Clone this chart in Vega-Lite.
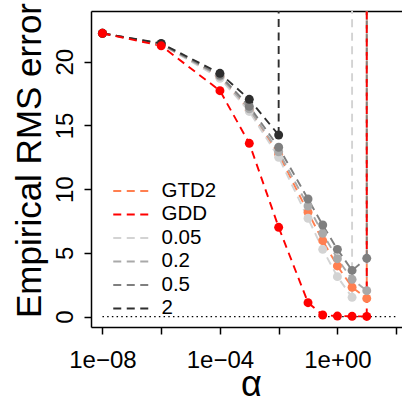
{
  "$schema": "https://vega.github.io/schema/vega-lite/v6.json",
  "width": 311,
  "height": 316,
  "autosize": {"type": "none"},
  "padding": {"left": 91, "top": 11, "right": 0, "bottom": 78},
  "background": "white",
  "config": {"view": {"stroke": null}, "font": "Liberation Sans"},
  "datasets": {
    "series": [
      {"series": "GTD2", "alpha": 1e-8, "err": 22.23},
      {"series": "GTD2", "alpha": 1e-6, "err": 21.38},
      {"series": "GTD2", "alpha": 1e-4, "err": 18.8},
      {"series": "GTD2", "alpha": 1e-3, "err": 16.2},
      {"series": "GTD2", "alpha": 1e-2, "err": 12.75},
      {"series": "GTD2", "alpha": 1e-1, "err": 8.19},
      {"series": "GTD2", "alpha": 0.31623, "err": 5.96},
      {"series": "GTD2", "alpha": 1, "err": 3.98},
      {"series": "GTD2", "alpha": 3.1623, "err": 2.31},
      {"series": "GTD2", "alpha": 10, "err": 1.43},
      {"series": "0.05", "alpha": 1e-8, "err": 22.23},
      {"series": "0.05", "alpha": 1e-6, "err": 21.36},
      {"series": "0.05", "alpha": 1e-4, "err": 18.7},
      {"series": "0.05", "alpha": 1e-3, "err": 16.1},
      {"series": "0.05", "alpha": 1e-2, "err": 12.5},
      {"series": "0.05", "alpha": 1e-1, "err": 7.72},
      {"series": "0.05", "alpha": 0.31623, "err": 5.28},
      {"series": "0.05", "alpha": 1, "err": 3.14},
      {"series": "0.05", "alpha": 3.1623, "err": 1.52},
      {"series": "0.2", "alpha": 1e-8, "err": 22.23},
      {"series": "0.2", "alpha": 1e-6, "err": 21.38},
      {"series": "0.2", "alpha": 1e-4, "err": 18.85},
      {"series": "0.2", "alpha": 1e-3, "err": 16.3},
      {"series": "0.2", "alpha": 1e-2, "err": 12.94},
      {"series": "0.2", "alpha": 1e-1, "err": 8.68},
      {"series": "0.2", "alpha": 0.31623, "err": 6.54},
      {"series": "0.2", "alpha": 1, "err": 4.55},
      {"series": "0.2", "alpha": 3.1623, "err": 2.93},
      {"series": "0.2", "alpha": 10, "err": 2.04},
      {"series": "0.5", "alpha": 1e-8, "err": 22.23},
      {"series": "0.5", "alpha": 1e-6, "err": 21.4},
      {"series": "0.5", "alpha": 1e-4, "err": 18.95},
      {"series": "0.5", "alpha": 1e-3, "err": 16.5},
      {"series": "0.5", "alpha": 1e-2, "err": 13.29},
      {"series": "0.5", "alpha": 1e-1, "err": 9.23},
      {"series": "0.5", "alpha": 0.31623, "err": 7.19},
      {"series": "0.5", "alpha": 1, "err": 5.28},
      {"series": "0.5", "alpha": 3.1623, "err": 3.63},
      {"series": "0.5", "alpha": 10, "err": 4.58},
      {"series": "2", "alpha": 1e-8, "err": 22.23},
      {"series": "2", "alpha": 1e-6, "err": 21.44},
      {"series": "2", "alpha": 1e-4, "err": 19.09},
      {"series": "2", "alpha": 1e-3, "err": 17.05},
      {"series": "2", "alpha": 1e-2, "err": 14.25},
      {"series": "GDD", "alpha": 1e-8, "err": 22.23},
      {"series": "GDD", "alpha": 1e-6, "err": 21.25},
      {"series": "GDD", "alpha": 1e-4, "err": 17.73},
      {"series": "GDD", "alpha": 1e-3, "err": 13.6},
      {"series": "GDD", "alpha": 1e-2, "err": 7.01},
      {"series": "GDD", "alpha": 1e-1, "err": 1.1},
      {"series": "GDD", "alpha": 0.31623, "err": 0.13},
      {"series": "GDD", "alpha": 1, "err": 0.05},
      {"series": "GDD", "alpha": 3.1623, "err": 0.03},
      {"series": "GDD", "alpha": 10, "err": 0.02}
    ],
    "diverge": [
      {"series": "GTD2", "alpha": 10, "err": 1.43},
      {"series": "0.05", "alpha": 3.1623, "err": 1.52},
      {"series": "0.2", "alpha": 10, "err": 2.04},
      {"series": "0.5", "alpha": 10, "err": 4.58},
      {"series": "2", "alpha": 0.01, "err": 14.25},
      {"series": "GDD", "alpha": 10, "err": 0.02}
    ],
    "zero": [{"alpha": 1e-8, "alpha2": 100, "err": 0}]
  },
  "resolve": {"scale": {"x": "shared", "y": "shared", "color": "shared"}, "axis": {"x": "independent"}},
  "layer": [
    {
      "data": {"name": "zero"},
      "mark": {"type": "rule", "color": "black", "strokeDash": [1.5, 3.2], "strokeWidth": 1.4},
      "encoding": {
        "x": {"field": "alpha", "type": "quantitative", "scale": {"type": "log", "domain": [4.07e-9, 158.5], "nice": false}, "axis": null},
        "x2": {"field": "alpha2"},
        "y": {"field": "err", "type": "quantitative", "scale": {"domain": [-0.81, 23.98], "nice": false, "zero": false}}
      }
    },
    {
      "data": {"name": "series"},
      "mark": {"type": "line", "strokeDash": [8, 5.5], "strokeWidth": 1.9, "clip": true},
      "encoding": {
        "x": {
          "field": "alpha", "type": "quantitative",
          "scale": {"type": "log", "domain": [4.07e-9, 158.5], "nice": false},
          "axis": {
            "orient": "bottom",
            "values": [1e-8, 1e-6, 1e-4, 1e-2, 1, 100],
            "labelExpr": "datum.value < 2e-8 ? '1e\u221208' : (datum.value > 5e-5 && datum.value < 2e-4) ? '1e\u221204' : (datum.value > 0.5 && datum.value < 2) ? '1e+00' : ''",
            "labelFontSize": 24, "labelColor": "black", "labelAlign": "center", "labelBaseline": "alphabetic",
            "labelPadding": 33, "labelFlush": false, "labelOverlap": false,
            "tickSize": 7, "tickColor": "black", "tickWidth": 1.5,
            "domainColor": "black", "domainWidth": 1.5, "grid": false,
            "title": "α", "titleFontSize": 36, "titleFontWeight": "normal", "titleColor": "black",
            "titleX": 159.8, "titleY": 68, "titleAlign": "center", "titleBaseline": "alphabetic"
          }
        },
        "y": {
          "field": "err", "type": "quantitative",
          "scale": {"domain": [-0.81, 23.98], "nice": false, "zero": false},
          "axis": {
            "values": [0, 5, 10, 15, 20],
            "labelAngle": -90, "labelAlign": "center", "labelBaseline": "alphabetic", "labelPadding": 12,
            "labelFontSize": 24, "labelColor": "black",
            "tickSize": 7, "tickColor": "black", "tickWidth": 1.5,
            "domainColor": "black", "domainWidth": 1.5, "grid": false,
            "title": "Empirical RMS error", "titleFontSize": 35, "titleFontWeight": "normal", "titleColor": "black",
            "titleAngle": -90, "titleX": -51, "titleY": 149, "titleAlign": "center", "titleBaseline": "alphabetic"
          }
        },
        "detail": {"field": "series"},
        "color": {
          "field": "series", "type": "nominal",
          "scale": {"domain": ["GTD2", "GDD", "0.05", "0.2", "0.5", "2"], "range": ["#FF7F50", "#FF0000", "#D3D3D3", "#A9A9A9", "#7F7F7F", "#2E2E2E"]},
          "legend": {
            "orient": "none", "legendX": 29.5, "legendY": 169.7, "title": null,
            "symbolType": "M-3.5,0H3.5", "symbolSize": 100, "symbolStrokeWidth": 2, "symbolDash": [8, 5.5],
            "labelFontSize": 20.5, "labelColor": "black", "labelOffset": 20.5, "rowPadding": 2.5, "padding": 0
          }
        }
      }
    },
    {
      "data": {"name": "diverge"},
      "mark": {"type": "rule", "strokeDash": [8, 5.5], "strokeWidth": 1.9, "clip": true},
      "encoding": {
        "x": {"field": "alpha", "type": "quantitative", "scale": {"type": "log", "domain": [4.07e-9, 158.5], "nice": false}, "axis": null},
        "y": {"field": "err", "type": "quantitative", "scale": {"domain": [-0.81, 23.98], "nice": false, "zero": false}},
        "y2": {"datum": 30},
        "color": {"field": "series", "type": "nominal", "legend": null}
      }
    },
    {
      "data": {"name": "series"},
      "mark": {"type": "circle", "size": 80, "opacity": 1},
      "encoding": {
        "x": {
          "field": "alpha", "type": "quantitative",
          "scale": {"type": "log", "domain": [4.07e-9, 158.5], "nice": false},
          "axis": {"orient": "top", "domain": true, "ticks": false, "labels": false, "title": null, "grid": false, "domainColor": "black", "domainWidth": 1.5}
        },
        "y": {"field": "err", "type": "quantitative", "scale": {"domain": [-0.81, 23.98], "nice": false, "zero": false}},
        "color": {"field": "series", "type": "nominal", "legend": null}
      }
    }
  ]
}
